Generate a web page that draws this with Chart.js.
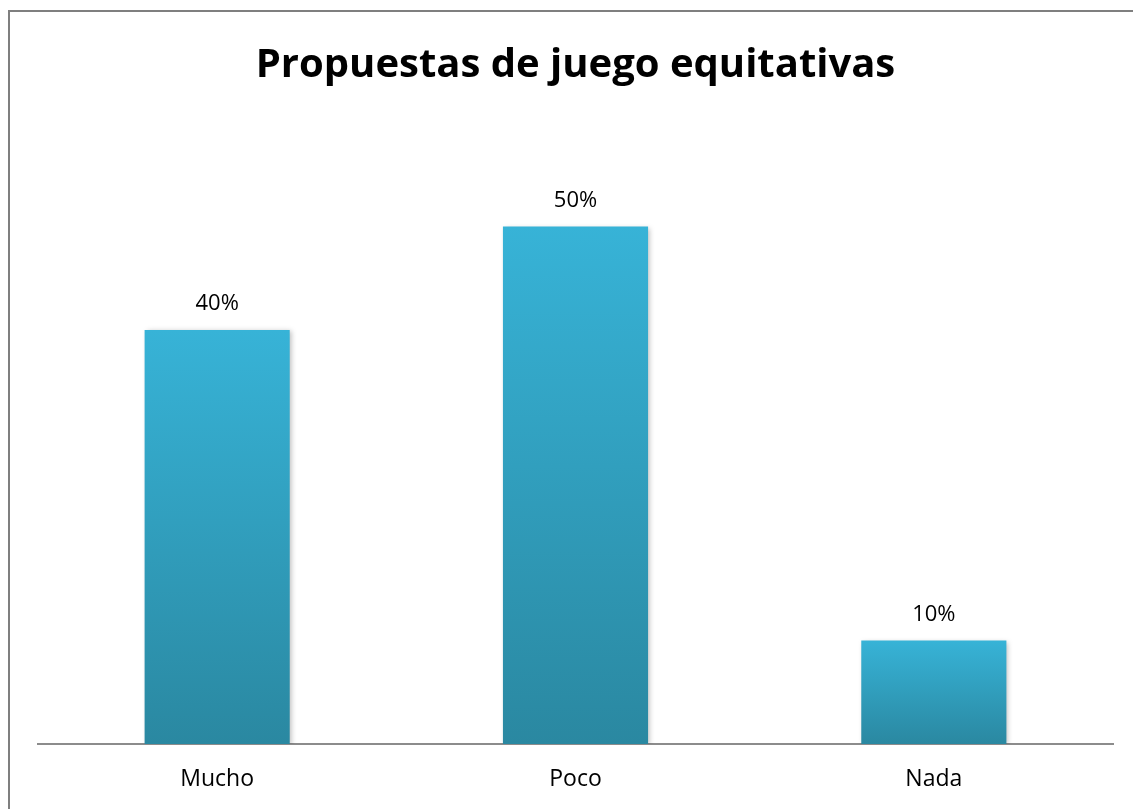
<!DOCTYPE html>
<html>
<head>
<meta charset="utf-8">
<script src="https://cdn.jsdelivr.net/npm/chart.js@4/dist/chart.umd.min.js"></script>
<style>
  html, body { margin: 0; padding: 0; background: #fff; overflow: hidden; }
  #frame { position: absolute; left: 8px; top: 10px; width: 1200px; height: 900px; border: 2px solid #7f7f7f; }
  #wrap { position: absolute; left: 0; top: 0; width: 1133px; height: 809px; }
</style>
</head>
<body>
<div id="frame"></div>
<div id="wrap"><canvas id="myChart" width="1133" height="809"></canvas></div>
<script>
const categories = ["Mucho", "Poco", "Nada"];
const percentValues = [40, 50, 10];
const chartTitle = "Propuestas de juego equitativas";

const chartCanvas = document.getElementById("myChart");

// gradient per bar, light on top and darker at the base
const barGradient = {
    id: "barGradient",
    beforeDatasetsDraw(chart) {
        const c = chart.ctx;
        chart.getDatasetMeta(0).data.forEach(bar => {
            const g = c.createLinearGradient(0, bar.y, 0, bar.base);
            g.addColorStop(0, "#37b3d7");
            g.addColorStop(1, "#2a88a1");
            // options are shared between bars, so give each its own copy
            bar.options = Object.assign({}, bar.options, { backgroundColor: g });
        });
        c.save();
        c.shadowColor = "rgba(0,0,0,0.25)";
        c.shadowBlur = 5;
        c.shadowOffsetX = 2;
        c.shadowOffsetY = 1;
    },
    afterDatasetsDraw(chart) {
        chart.ctx.restore();
    }
};

// value labels above the bars
const valueLabels = {
    id: "valueLabels",
    afterDatasetsDraw(chart) {
        const c = chart.ctx;
        c.save();
        c.fillStyle = "#000";
        c.font = "22px 'Open Sans'";
        c.textAlign = "center";
        c.textBaseline = "middle";
        chart.getDatasetMeta(0).data.forEach((bar, i) => {
            c.fillText(percentValues[i] + "%", bar.x, bar.y - 26);
        });
        c.restore();
    }
};

let myChart = new Chart(chartCanvas, {
    type: "bar",
    plugins: [barGradient, valueLabels],
    data: {
        labels: categories,
        datasets: [
            {
                data: percentValues,
                backgroundColor: "#33a6c7",
                borderWidth: 0,
                categoryPercentage: 1,
                barPercentage: 0.405
            }],
    },
    options: {
        responsive: false,
        animation: false,
        layout: { padding: { left: 38, right: 20, top: 0, bottom: 19 } },
        scales: {
            x: {
                grid: { display: false, drawTicks: false },
                border: { display: true, color: "#8c8c8c", width: 2 },
                ticks: { color: "#000", padding: 22, font: { family: "'Open Sans'", size: 23 } },
                afterFit: scale => { scale.height = 46; }
            },
            y: {
                display: false,
                min: 0,
                max: 60
            }
        },
        plugins: {
            legend: { display: false },
            tooltip: { enabled: false },
            title: {
                display: true,
                text: chartTitle,
                color: "#000",
                font: { family: "'Open Sans'", size: 40, weight: "bold" },
                padding: { top: 42, bottom: 33 }
            }
        },
    },
});
</script>
</body>
</html>
